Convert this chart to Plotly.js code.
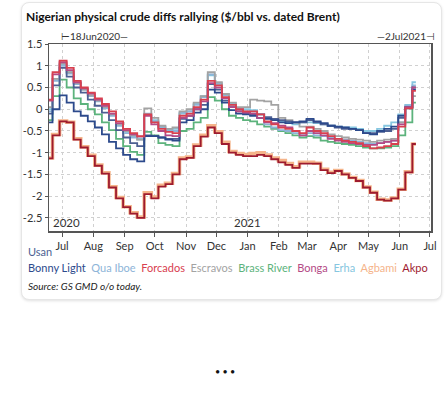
<!DOCTYPE html>
<html><head><meta charset="utf-8">
<script src="https://cdn.plot.ly/plotly-3.0.1.min.js"></script>
<style>
html,body{margin:0;padding:0;background:#fff;width:448px;height:393px;overflow:hidden;}
#card{position:absolute;left:21px;top:2px;width:419px;height:296px;border:1px solid #e6e6e6;border-radius:8px;box-shadow:0 1px 3px rgba(0,0,0,0.12);background:#fff;}
#chart{position:absolute;left:0;top:0;width:448px;height:393px;}
</style></head>
<body><div id="card"></div><div id="chart"></div>
<script>
const dates = ['2020-06-18','2020-06-25','2020-07-02','2020-07-09','2020-07-16','2020-07-23','2020-07-30','2020-08-06','2020-08-13','2020-08-20','2020-08-27','2020-09-03','2020-09-10','2020-09-17','2020-09-24','2020-10-01','2020-10-08','2020-10-15','2020-10-22','2020-10-29','2020-11-05','2020-11-12','2020-11-19','2020-11-26','2020-12-03','2020-12-10','2020-12-17','2020-12-24','2020-12-31','2021-01-07','2021-01-14','2021-01-21','2021-01-28','2021-02-04','2021-02-11','2021-02-18','2021-02-25','2021-03-04','2021-03-11','2021-03-18','2021-03-25','2021-04-01','2021-04-08','2021-04-15','2021-04-22','2021-04-29','2021-05-06','2021-05-13','2021-05-20','2021-05-27','2021-06-03','2021-06-10','2021-06-17'];

const usan = [-0.1,0.55,0.95,0.75,0.5,0.38,0.22,0.08,-0.08,-0.25,-0.48,-0.65,-0.78,-0.85,-0.6,-0.62,-0.65,-0.68,-0.68,-0.22,-0.15,0.0,0.1,0.58,0.45,0.2,0.05,-0.05,-0.1,-0.12,-0.12,-0.18,-0.22,-0.25,-0.28,-0.3,-0.3,-0.25,-0.3,-0.35,-0.38,-0.42,-0.45,-0.45,-0.48,-0.55,-0.55,-0.52,-0.5,-0.45,-0.2,0.02,0.5];
const bonnyLight = [-0.3,0.0,0.32,0.15,-0.05,-0.15,-0.28,-0.42,-0.58,-0.75,-0.9,-1.05,-1.15,-1.2,-0.62,-0.62,-0.65,-0.7,-0.72,-0.3,-0.25,-0.08,0.0,0.45,0.38,0.15,-0.02,-0.1,-0.12,-0.15,-0.2,-0.22,-0.25,-0.3,-0.32,-0.3,-0.28,-0.22,-0.28,-0.32,-0.38,-0.4,-0.42,-0.45,-0.48,-0.55,-0.58,-0.5,-0.45,-0.4,-0.15,0.05,0.45];
const quaIboe = [-0.05,0.65,1.0,0.82,0.58,0.45,0.3,0.18,0.02,-0.15,-0.38,-0.55,-0.65,-0.7,-0.1,-0.28,-0.42,-0.48,-0.5,-0.08,-0.05,0.1,0.28,0.8,0.6,0.32,0.1,0.0,-0.05,-0.1,-0.2,-0.35,-0.42,-0.48,-0.5,-0.55,-0.6,-0.55,-0.6,-0.62,-0.65,-0.68,-0.7,-0.72,-0.75,-0.78,-0.8,-0.78,-0.75,-0.72,-0.3,0.08,0.55];
const forcados = [0.22,0.85,1.12,0.95,0.65,0.5,0.38,0.25,0.12,-0.05,-0.28,-0.45,-0.55,-0.62,-0.12,-0.3,-0.45,-0.52,-0.55,-0.15,-0.1,0.05,0.22,0.65,0.55,0.28,0.1,0.0,-0.05,-0.05,-0.12,-0.28,-0.35,-0.42,-0.45,-0.5,-0.55,-0.42,-0.5,-0.55,-0.62,-0.68,-0.72,-0.75,-0.78,-0.85,-0.9,-0.88,-0.85,-0.8,-0.4,0.02,0.42];
const escravos = [0.05,0.7,1.05,0.85,0.6,0.45,0.32,0.2,0.05,-0.12,-0.35,-0.5,-0.6,-0.7,0.02,-0.2,-0.38,-0.45,-0.42,-0.05,0.0,0.15,0.3,0.85,0.62,0.35,0.15,0.05,0.05,0.22,0.2,0.18,0.1,-0.2,-0.25,-0.3,-0.4,-0.4,-0.45,-0.5,-0.58,-0.62,-0.65,-0.68,-0.7,-0.72,-0.75,-0.72,-0.7,-0.68,-0.3,0.05,0.3];
const brassRiver = [-0.25,0.3,0.68,0.5,0.25,0.12,0.0,-0.12,-0.3,-0.48,-0.68,-0.85,-0.98,-1.05,-0.52,-0.6,-0.78,-0.82,-0.85,-0.5,-0.45,-0.3,-0.2,0.28,0.2,0.0,-0.15,-0.2,-0.25,-0.28,-0.35,-0.4,-0.45,-0.5,-0.55,-0.6,-0.65,-0.62,-0.65,-0.72,-0.75,-0.78,-0.8,-0.82,-0.85,-0.88,-0.9,-0.9,-0.88,-0.85,-0.6,-0.3,0.15];
const bonga = [0.2,0.8,1.08,0.9,0.62,0.48,0.36,0.22,0.08,-0.1,-0.32,-0.48,-0.58,-0.63,-0.15,-0.35,-0.5,-0.6,-0.62,-0.2,-0.15,0.0,0.18,0.6,0.5,0.25,0.05,-0.05,-0.08,-0.1,-0.2,-0.3,-0.32,-0.38,-0.42,-0.5,-0.6,-0.5,-0.55,-0.6,-0.68,-0.72,-0.75,-0.78,-0.8,-0.82,-0.82,-0.78,-0.75,-0.72,-0.35,0.05,0.5];
const erha = [0.0,0.7,1.02,0.85,0.6,0.46,0.32,0.2,0.04,-0.12,-0.35,-0.52,-0.62,-0.68,-0.12,-0.25,-0.4,-0.45,-0.45,-0.1,-0.05,0.12,0.3,0.78,0.58,0.35,0.12,0.02,0.0,-0.02,-0.12,-0.2,-0.22,-0.28,-0.3,-0.35,-0.3,-0.3,-0.32,-0.35,-0.38,-0.4,-0.42,-0.42,-0.45,-0.5,-0.5,-0.45,-0.38,-0.3,-0.12,0.1,0.62];
const agbami = [-1.12,-0.58,-0.27,-0.3,-0.68,-0.86,-1.06,-1.28,-1.46,-1.78,-2.03,-2.24,-2.38,-2.48,-1.92,-2.02,-1.75,-1.7,-1.48,-1.12,-1.1,-0.82,-0.6,-0.38,-0.52,-0.76,-0.97,-1.02,-1.04,-1.02,-1.0,-1.05,-1.12,-1.18,-1.25,-1.32,-1.22,-1.22,-1.24,-1.38,-1.45,-1.41,-1.49,-1.57,-1.64,-1.79,-1.91,-2.07,-2.09,-2.04,-1.84,-1.44,-0.8];
const akpo = [-1.13,-0.6,-0.28,-0.3,-0.7,-0.88,-1.08,-1.3,-1.48,-1.8,-2.05,-2.25,-2.4,-2.5,-1.95,-2.05,-1.78,-1.72,-1.5,-1.15,-1.12,-0.85,-0.63,-0.42,-0.55,-0.8,-1.0,-1.05,-1.08,-1.08,-1.05,-1.08,-1.15,-1.22,-1.28,-1.35,-1.25,-1.25,-1.25,-1.4,-1.47,-1.42,-1.5,-1.58,-1.65,-1.8,-1.92,-2.08,-2.1,-2.05,-1.85,-1.45,-0.8];

const seriesNames = ['Usan','Bonny Light','Qua Iboe','Forcados','Escravos','Brass River','Bonga','Erha','Agbami','Akpo'];
const seriesColors = ['#4d5f92','#2c4a8c','#8db4d8','#d8404f','#a3a3a3','#5cb37c','#b44a86','#86c6e0','#f5b48a','#9e1b2f'];
const seriesData = [usan,bonnyLight,quaIboe,forcados,escravos,brassRiver,bonga,erha,agbami,akpo];
const yTicks = [1.5,1,0.5,0,-0.5,-1,-1.5,-2,-2.5];
const yTickText = ['1.5','1','0.5','0','-0.5','-1','-1.5','-2','-2.5'];

const drawOrder = [8,5,7,2,4,0,1,6,3,9];
const traces = drawOrder.map(i => ({
  type:'scatter', mode:'lines', x:dates, y:seriesData[i], name:seriesNames[i],
  line:{color:seriesColors[i], width: i===8 ? 3.5 : 1.8, shape:'hvh'}, showlegend:false
}));

const font = 'Lato, "Open Sans", sans-serif';
const ann = [
  {xref:'paper',yref:'paper',x:-0.066,y:1.145,xanchor:'left',yanchor:'middle',text:'<b>Nigerian physical crude diffs rallying ($/bbl vs. dated Brent)</b>',showarrow:false,font:{family:font,size:12,color:'#111'}},
  {xref:'paper',yref:'paper',x:0.025,y:1.0,xanchor:'left',yanchor:'bottom',text:'⊢18Jun2020—',showarrow:false,font:{family:font,size:10,color:'#333'}},
  {xref:'paper',yref:'paper',x:1.015,y:1.0,xanchor:'right',yanchor:'bottom',text:'—2Jul2021⊣',showarrow:false,font:{family:font,size:10,color:'#333'}},
  {xref:'paper',yref:'paper',x:0.005,y:0.0,xanchor:'left',yanchor:'bottom',text:'2020',showarrow:false,font:{family:font,size:11.5,color:'#333'}},
  {xref:'x',yref:'paper',x:'2021-01-01',y:0.0,xanchor:'center',yanchor:'bottom',text:'2021',showarrow:false,font:{family:font,size:11.5,color:'#333'}},
  {xref:'paper',yref:'paper',x:-0.06,y:-0.11,xanchor:'left',yanchor:'middle',text:'Usan',showarrow:false,font:{family:font,size:11,color:seriesColors[0]}},
  {xref:'paper',yref:'paper',x:-0.06,y:-0.295,xanchor:'left',yanchor:'middle',text:'<i>Source: GS GMD o/o today.</i>',showarrow:false,font:{family:font,size:10,color:'#222'}},
  {xref:'paper',yref:'paper',x:0.46,y:-0.75,xanchor:'center',yanchor:'middle',text:'• • •',showarrow:false,font:{family:font,size:9,color:'#111'}}
];
const legendHtml = seriesNames.slice(1).map((n,k)=>'<span style="color:'+seriesColors[k+1]+'">'+n+'</span>').join('  ');
ann.push({xref:'paper',yref:'paper',x:-0.06,y:-0.195,xanchor:'left',yanchor:'middle',text:legendHtml,showarrow:false,font:{family:font,size:11}});

const layout = {
  width:448, height:393,
  margin:{l:49,r:17,t:44,b:162},
  paper_bgcolor:'rgba(0,0,0,0)', plot_bgcolor:'#fff',
  showlegend:false,
  xaxis:{type:'date', range:['2020-06-18','2021-07-02'], tick0:'2020-07-01', dtick:'M1', tickformat:'%b',
    ticks:'outside', ticklen:4, tickcolor:'#555', showline:true, linecolor:'#555', linewidth:1.5, mirror:true,
    showgrid:true, gridcolor:'#d0d0d0', griddash:'dot', gridwidth:1, zeroline:false,
    tickfont:{family:font,size:11,color:'#333'}},
  yaxis:{range:[-2.8,1.5], tickvals:yTicks, ticktext:yTickText, ticks:'outside', ticklen:3, tickcolor:'#555',
    showline:true, linecolor:'#555', linewidth:1.5, mirror:true,
    showgrid:true, gridcolor:'#d0d0d0', griddash:'dot', gridwidth:1, zeroline:false,
    tickfont:{family:font,size:11,color:'#333'}},
  annotations:ann
};
Plotly.newPlot('chart', traces, layout, {staticPlot:true, displayModeBar:false});
</script></body></html>
